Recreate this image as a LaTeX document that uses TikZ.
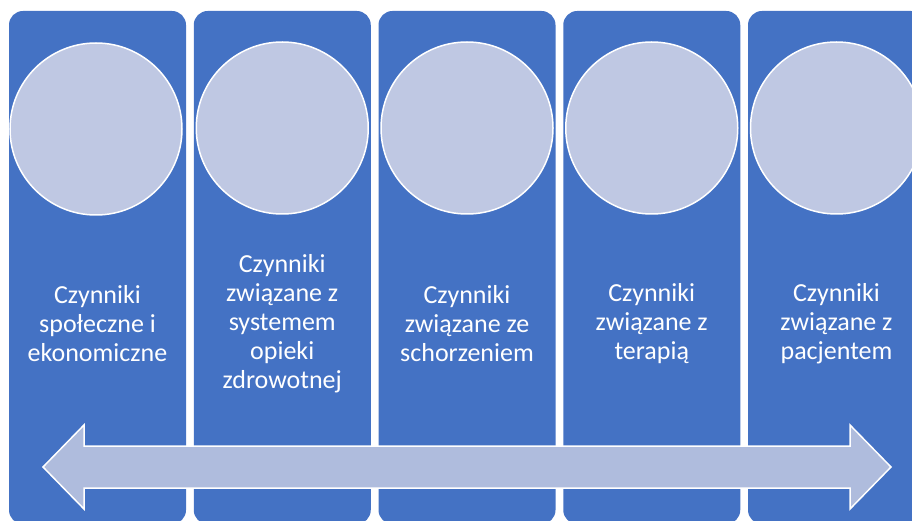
\documentclass[tikz,border=0pt]{standalone}
\usepackage{fontspec}
\setmainfont{Carlito}
\definecolor{pillarblue}{HTML}{4472C4}
\definecolor{discgrey}{HTML}{BFC8E3}
\definecolor{arrowgrey}{HTML}{AFBCDD}

\begin{document}
\begin{tikzpicture}[x=1pt,y=-1pt,
  pillar/.style={rectangle,rounded corners=14pt,fill=pillarblue,inner sep=0pt,
    minimum width=177pt,minimum height=513pt},
  disc/.style={circle,fill=discgrey,draw=white,line width=1.5pt,inner sep=0pt,
    minimum size=172pt},
  factor/.style={text=white,align=center,font=\fontsize{26}{29}\selectfont}]
  \useasboundingbox (0,0) rectangle (912,521);
  % columns
  \node[pillar] (p1) at (97.5,267.5) {};
  \node[pillar] (p2) at (282.25,267.5) {};
  \node[pillar] (p3) at (467,267.5) {};
  \node[pillar] (p4) at (651.75,267.5) {};
  \node[pillar] (p5) at (836.5,267.5) {};
  % circles
  \node[disc] (d1) at (96,129) {};
  \node[disc] (d2) at (282.25,128) {};
  \node[disc] (d3) at (467,128) {};
  \node[disc] (d4) at (651.75,128) {};
  \node[disc] (d5) at (836.5,128) {};
  % texts
  \node[factor] (t1) at (97.5,324) {Czynniki\\społeczne i\\ekonomiczne};
  \node[factor] (t2) at (282.25,324) {Czynniki\\związane z\\systemem\\opieki\\zdrowotnej};
  \node[factor] (t3) at (467,324) {Czynniki\\związane ze\\schorzeniem};
  \node[factor] (t4) at (651.75,324) {Czynniki\\związane z\\terapią};
  \node[factor] (t5) at (836.5,324) {Czynniki\\związane z\\pacjentem};
  % double arrow
  \draw[fill=arrowgrey,draw=white,line width=1.5pt]
    (43,467) -- (84,425) -- (84,446) -- (850,446) -- (850,425) -- (891,467)
    -- (850,509) -- (850,488) -- (84,488) -- (84,509) -- cycle;
\end{tikzpicture}
\end{document}
